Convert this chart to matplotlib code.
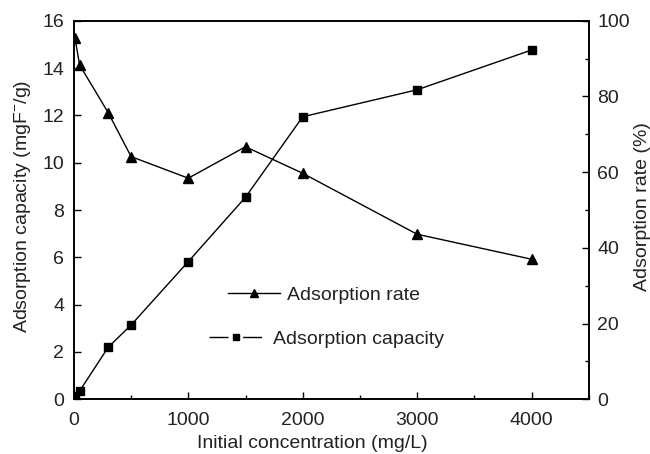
import matplotlib
matplotlib.use("Agg")
import matplotlib.pyplot as plt
from matplotlib.lines import Line2D
from matplotlib.ticker import MultipleLocator

plt.rcParams['font.family'] = ['Liberation Sans', 'DejaVu Sans']
plt.rcParams['mathtext.fontset'] = 'custom'
plt.rcParams['mathtext.rm'] = 'Liberation Sans'
plt.rcParams['mathtext.it'] = 'Liberation Sans'
plt.rcParams['font.size'] = 14

# Data
conc = [10, 50, 300, 500, 1000, 1500, 2000, 3000, 4000]
capacity = [0.15, 0.35, 2.20, 3.14, 5.82, 8.54, 11.94, 13.08, 14.76]
rate = [95.3, 88.3, 75.7, 64.1, 58.4, 66.7, 59.7, 43.6, 37.0]

fig = plt.figure(figsize=(6.5, 4.54), dpi=100)
ax = fig.add_axes([73.9/650, 1-399.3/454, (588.7-73.9)/650, (399.3-20.7)/454])
ax2 = ax.twinx()

lc, = ax.plot(conc, capacity, color='black', lw=1.0, marker='s', ms=6, label='Adsorption capacity')
lr, = ax2.plot(conc, rate, color='black', lw=1.0, marker='^', ms=7, label='Adsorption rate')

ax.set_xlim(0, 4500)
ax.set_ylim(0, 16)
ax2.set_ylim(0, 100)

ax.xaxis.set_major_locator(MultipleLocator(1000))
ax.xaxis.set_minor_locator(MultipleLocator(500))
ax.yaxis.set_major_locator(MultipleLocator(2))
ax2.yaxis.set_major_locator(MultipleLocator(20))
ax2.yaxis.set_minor_locator(MultipleLocator(10))

ax.tick_params(axis='x', which='major', direction='in', length=5, width=1, pad=9, top=False)
ax.tick_params(axis='x', which='minor', direction='in', length=3, width=1, top=False)
ax.tick_params(axis='y', which='major', direction='in', length=5, width=1, pad=7)
ax2.tick_params(axis='y', which='major', direction='in', length=5, width=1, pad=6)
ax2.tick_params(axis='y', which='minor', direction='in', length=3, width=1)

for a in (ax, ax2):
    for s in a.spines.values():
        s.set_linewidth(1.2)

ax.set_xlabel('Initial concentration (mg/L)', color='#222222')
ax.xaxis.set_label_coords(0.4625, -0.094)
ax.set_ylabel('Adsorption capacity (mgF$^{-}$/g)', color='#222222')
ax.yaxis.set_label_coords(-0.08, 0.51)
ax2.set_ylabel('Adsorption rate (%)', color='#222222')
ax2.yaxis.set_label_coords(1.088, 0.51)

for lab in ax.get_xticklabels() + ax.get_yticklabels() + ax2.get_yticklabels():
    lab.set_color('#222222')

h_rate = Line2D([], [], color='black', lw=1.0, marker='^', ms=6)
h_cap = Line2D([], [], color='black', lw=1.0, marker='s', ms=5, linestyle=(0, (13.7, 10.5)))
leg1 = ax2.legend([h_rate], ['Adsorption rate'], loc='center left', frameon=False,
                  bbox_to_anchor=(0.2995, 0.275), handlelength=2.65, handletextpad=0.4,
                  borderpad=0, borderaxespad=0)
ax2.add_artist(leg1)
leg2 = ax2.legend([h_cap], ['Adsorption capacity'], loc='center left', frameon=False,
                  bbox_to_anchor=(0.2625, 0.158), handlelength=2.75, handletextpad=0.55,
                  borderpad=0, borderaxespad=0)
for t in leg1.get_texts() + leg2.get_texts():
    t.set_color('#222222')

fig.savefig('out.png', dpi=100)
